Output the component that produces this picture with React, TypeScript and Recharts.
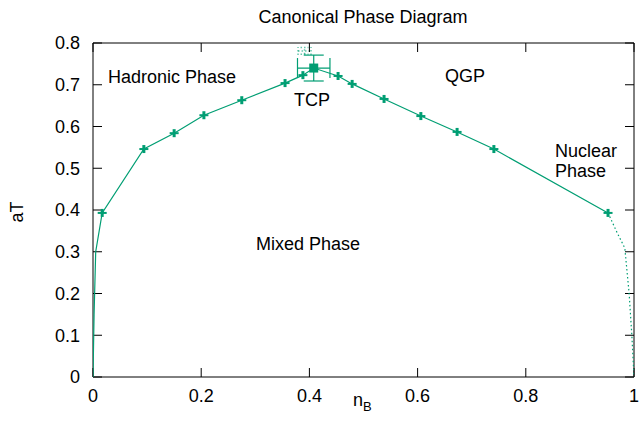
import React from 'react';
import { ScatterChart, Scatter, XAxis, YAxis, ErrorBar } from 'recharts';

// left tail of the boundary (no markers, except where it meets the first point)
const leftTailN = [0, 0.002, 0.005];
const leftTailT = [0, 0.15, 0.3];

// measured points, hadronic side
const leftN = [0.017, 0.094, 0.15, 0.205, 0.275, 0.355, 0.388];
const leftT = [0.393, 0.546, 0.584, 0.627, 0.663, 0.704, 0.723];

// tricritical point
const tcpN = 0.408;
const tcpT = 0.74;
const tcpErrN = 0.03;
const tcpErrT = 0.031;

// faint dotted estimate above the TCP
const upperN = 0.391;
const upperT = 0.781;
const upperErrN = 0.012;
const upperErrT = 0.008;

// measured points, QGP / nuclear side
const rightN = [0.453, 0.479, 0.538, 0.606, 0.673, 0.741, 0.952];
const rightT = [0.721, 0.702, 0.666, 0.625, 0.587, 0.546, 0.393];

// dotted extrapolation down to n_B = 1
const tailN = [0.952, 0.969, 0.983, 0.991, 0.996, 1.0];
const tailT = [0.393, 0.345, 0.309, 0.2, 0.1, 0];

const xTicks = [0, 0.2, 0.4, 0.6, 0.8, 1];
const yTicks = [0, 0.1, 0.2, 0.3, 0.4, 0.5, 0.6, 0.7, 0.8];

const GREEN = '#009e73';
const FONT = '"Liberation Sans", Arial, sans-serif';

const pts = (ns: number[], ts: number[]) => ns.map((n, i) => ({ x: n, y: ts[i] }));

const solidPath = [
  ...pts(leftTailN, leftTailT),
  ...pts(leftN, leftT),
  { x: tcpN, y: tcpT },
  ...pts(rightN, rightT),
];
const dottedPath = pts(tailN, tailT);
const markers = [...pts(leftN, leftT), ...pts(rightN, rightT)];
const tcp = [{ x: tcpN, y: tcpT, ex: tcpErrN, ey: tcpErrT }];
const upper = [{ x: upperN, y: upperT, ex: upperErrN, ey: upperErrT }];

const fmt = (v: number) => String(v);

const Blank = () => <g />;

const Plus = (props: any) => {
  const { cx, cy } = props;
  return (
    <g fill={GREEN}>
      <rect x={cx - 1.5} y={cy - 4} width={3} height={8} />
      <rect x={cx - 4.5} y={cy - 1} width={9} height={2} />
    </g>
  );
};

const Square = (props: any) => {
  const { cx, cy } = props;
  return <rect x={cx - 4.5} y={cy - 4.5} width={9} height={9} fill={GREEN} />;
};

const tickStyle = { fill: '#000', fontSize: 18, fontFamily: FONT };
const textStyle = { fontSize: 18, fontFamily: FONT, fill: '#000' };

export default function App() {
  return (
    <div style={{ position: 'absolute', left: 0, top: 0, width: 640, height: 434, background: '#fff' }}>
      <ScatterChart width={640} height={434} margin={{ top: 42, right: 5, bottom: 0, left: 0 }}>
        <XAxis
          dataKey="x"
          type="number"
          domain={[0, 1]}
          ticks={xTicks}
          tickFormatter={fmt}
          height={57}
          tickSize={-9}
          tickMargin={21}
          tick={tickStyle}
          axisLine={{ stroke: '#000' }}
          tickLine={{ stroke: '#000' }}
          allowDataOverflow
        />
        <XAxis
          xAxisId="top"
          orientation="top"
          dataKey="x"
          type="number"
          domain={[0, 1]}
          ticks={xTicks}
          height={1}
          tickSize={-9}
          tick={Blank}
          axisLine={{ stroke: '#000' }}
          tickLine={{ stroke: '#000' }}
          allowDataOverflow
        />
        <YAxis
          dataKey="y"
          type="number"
          domain={[0, 0.8]}
          ticks={yTicks}
          tickFormatter={fmt}
          width={93}
          tickSize={-9}
          tickMargin={22}
          tick={tickStyle}
          axisLine={{ stroke: '#000' }}
          tickLine={{ stroke: '#000' }}
          allowDataOverflow
        />
        <YAxis
          yAxisId="right"
          orientation="right"
          dataKey="y"
          type="number"
          domain={[0, 0.8]}
          ticks={yTicks}
          width={1}
          tickSize={-9}
          tick={Blank}
          axisLine={{ stroke: '#000' }}
          tickLine={{ stroke: '#000' }}
          allowDataOverflow
        />
        {/* invisible copy bound to the mirrored axes so they get ticks */}
        <Scatter
          data={markers}
          xAxisId="top"
          yAxisId="right"
          shape={Blank}
          isAnimationActive={false}
        />
        <Scatter
          data={solidPath}
          line={{ stroke: GREEN, strokeWidth: 1.2 }}
          shape={Blank}
          isAnimationActive={false}
        />
        <Scatter
          data={dottedPath}
          line={{ stroke: GREEN, strokeWidth: 1.2, strokeDasharray: '1.5 2.5' }}
          shape={Blank}
          isAnimationActive={false}
        />
        <Scatter data={markers} shape={Plus} isAnimationActive={false} />
        <Scatter data={upper} shape={Blank} isAnimationActive={false}>
          <ErrorBar dataKey="ex" direction="x" width={4} stroke={GREEN} strokeOpacity={0.6} strokeDasharray="1.5 2" />
          <ErrorBar dataKey="ey" direction="y" width={4} stroke={GREEN} strokeOpacity={0.6} strokeDasharray="1.5 2" />
        </Scatter>
        <Scatter data={tcp} shape={Square} isAnimationActive={false}>
          <ErrorBar dataKey="ex" direction="x" width={10} stroke={GREEN} strokeWidth={1.2} />
          <ErrorBar dataKey="ey" direction="y" width={10} stroke={GREEN} strokeWidth={1.2} />
        </Scatter>

        <text x={363} y={23} textAnchor="middle" style={textStyle}>
          Canonical Phase Diagram
        </text>
        <text x={108} y={83} style={textStyle}>Hadronic Phase</text>
        <text x={465} y={82} textAnchor="middle" style={textStyle}>QGP</text>
        <text x={312} y={106} textAnchor="middle" style={textStyle}>TCP</text>
        <text x={555} y={157} style={textStyle}>Nuclear</text>
        <text x={555} y={177} style={textStyle}>Phase</text>
        <text x={308} y={250} textAnchor="middle" style={textStyle}>Mixed Phase</text>
        <text x={23} y={212} textAnchor="middle" transform="rotate(-90 23 212)" style={textStyle}>
          aT
        </text>
        <text x={353} y={406} style={textStyle}>
          n<tspan dy={5} style={{ fontSize: 13 }}>B</tspan>
        </text>
      </ScatterChart>
    </div>
  );
}
